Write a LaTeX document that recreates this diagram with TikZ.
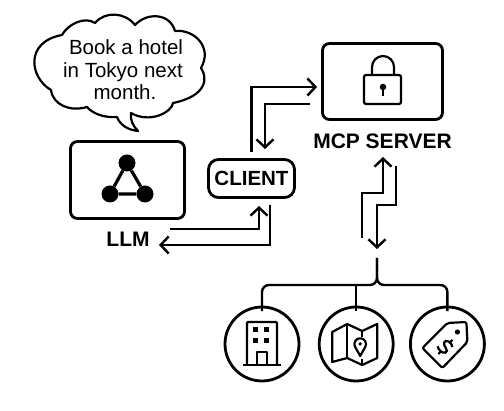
\documentclass[tikz,border=0pt]{standalone}
\usepackage{fontspec}
\setmainfont{Liberation Sans}
\usetikzlibrary{arrows.meta,positioning,calc}
\tikzset{
  panel/.style={rectangle,rounded corners=#1,draw=black,fill=white,line width=2.8pt,inner sep=0pt},
  panel/.default={7pt},
  caption/.style={font=\fontsize{21}{22}\selectfont\bfseries,inner sep=0pt,text=black},
  flow/.style={-{Straight Barb[length=8pt,width=17pt,line width=2.4pt]},line width=2.4pt,black},
  trunk/.style={line width=2.4pt,black,rounded corners=7pt},
  tool/.style={circle,draw=black,fill=white,line width=2.8pt,minimum size=74pt,inner sep=0pt},
  iconline/.style={line width=2.2pt,black,line join=round},
  spot/.style={circle,fill=black,inner sep=0pt,minimum size=#1},
}
\begin{document}
\begin{tikzpicture}[x=1pt,y=-1pt]
  \useasboundingbox (0,0) rectangle (504,411);
  % speech bubble
  \draw[line width=2.2pt,black,fill=white,line join=round]
    (62,35) .. controls (68,24) and (85,16) .. (95,23)
    .. controls (105,11) and (125,12) .. (135,25)
    .. controls (147,12) and (170,13) .. (175,31)
    .. controls (194,29) and (213,47) .. (201,68)
    .. controls (208,78) and (207,96) .. (173,103)
    .. controls (172,112) and (150,124) .. (131,113)
    .. controls (130,120) and (133,126) .. (138,131)
    .. controls (128,130) and (120,125) .. (117,117)
    .. controls (105,118) and (93,114) .. (87,107)
    .. controls (70,112) and (53,105) .. (51,90)
    .. controls (30,78) and (24,42) .. (62,35) -- cycle;
  \node[font=\fontsize{20.5}{22.5}\selectfont,align=center,inner sep=0pt,text=black] (bubble) at (123,70) {\hspace*{6pt}Book a hotel\\in Tokyo next\hspace*{6pt}\\\hspace*{4pt}month.};

  \node[panel,minimum width=114pt,minimum height=77pt] (llm) at (127.5,180) {};
  \node[caption,below=12pt of llm,xshift=0.5pt] (llmname) {LLM};
  \node[panel=10pt,minimum width=86pt,minimum height=38pt,font=\fontsize{20.5}{22}\selectfont\bfseries] (client) at (251.5,178.5) {CLIENT};
  \node[panel,minimum width=120pt,minimum height=76pt] (mcp) at (382.5,81.5) {};
  \node[caption,below=13pt of mcp] (mcpname) {MCP SERVER};

  % llm icon
  \node[spot=17pt] (top) at (127,163) {};
  \node[spot=17pt] (left) at (110,194) {};
  \node[spot=17pt] (right) at (145,194) {};
  \draw[line width=3.2pt] (top) -- (left) -- (right) -- (top);

  % lock icon
  \draw[iconline,rounded corners=2pt] (364,75) rectangle (401,104);
  \draw[iconline] (372,75) -- (372,67) arc[start angle=180,end angle=0,radius=11pt] -- (394,75);
  \node[spot=6.5pt] (key) at (383,87) {};
  \draw[line width=2.6pt] (key) -- ++(0,9);

  % client and server
  \draw[flow,shorten <=6pt,shorten >=4pt] (client.north) |- ([yshift=-5.5pt]mcp.west);
  \coordinate (mcpback) at (310,104);
  \coordinate (cltin) at (265,149);
  \draw[flow] (mcpback) -| (cltin);

  % llm and client
  \coordinate (llmout) at (170,229);
  \coordinate (cltunder) at (259,206);
  \draw[flow] (llmout) -| (cltunder);
  \coordinate (cltout) at (270,205);
  \coordinate (llmin) at (159,245);
  \draw[flow] (cltout) |- (llmin);

  % server and tools
  \coordinate (srvin) at (383,157);
  \coordinate (up) at (362,238);
  \coordinate (srvout) at (396,166);
  \coordinate (fork) at (377,249);
  \draw[flow] (up) -- (362,193) -- (383,193) -- (srvin);
  \draw[flow] (srvout) -- (396,205) -- (377,205) -- (fork);

  \node[tool] (hotel) at (262,344) {};
  \node[tool,right=17.4pt of hotel] (map) {};
  \node[tool,right=14.4pt of map] (price) {};
  \coordinate (stem) at (377,258);
  \draw[trunk] (stem) |- (hotel.north |- 0,285) -- ([yshift=-5.5pt]hotel.north);
  \draw[trunk] (stem) |- (price.north |- 0,285) -- ([yshift=-5.5pt]price.north);
  \draw[line width=2.4pt] (map.north |- 0,285) -- ([yshift=-5.5pt]map.north);

  % hotel icon
  \begin{scope}[shift={(hotel.center)}]
    \draw[iconline,rounded corners=1pt] (-15,21) -- (-15,-22) -- (15,-22) -- (15,21);
    \draw[iconline] (-19,21) -- (19,21);
    \draw[iconline] (-5,21) -- (-5,8) -- (5,8) -- (5,21);
    \foreach \wx in {-7,4}
      \foreach \wy in {-14,-3}
        \fill (\wx-2.5,\wy-2.5) rectangle (\wx+2.5,\wy+2.5);
  \end{scope}

  % map icon
  \begin{scope}[shift={(map.center)}]
    \draw[iconline] (-24,-12) -- (-9,-20) -- (6,-13) -- (21,-20) -- (21,14) -- (6,21) -- (-9,14) -- (-24,18) -- cycle;
    \draw[iconline] (-9,-20) -- (-9,14);
    \draw[iconline] (6,-13) -- (6,-7) (6,15) -- (6,21);
    \draw[iconline] (4,12) -- (-1,3) arc[start angle=210,end angle=-30,radius=5.8pt] -- cycle;
    \fill (4,0) circle[radius=1.8pt];
  \end{scope}

  % price tag icon
  \begin{scope}[shift={(price.center)}]
    \draw[iconline,rounded corners=2pt] (-25,4) -- (0,-21) -- (19,-22) -- (20,-2) -- (-5,24) -- cycle;
    \fill (10,-12) circle[radius=2.6pt];
    \begin{scope}[shift={(-2,3)},rotate=-45]
      \draw[line width=2.2pt] (5,-5) .. controls (1,-8) and (-6,-6) .. (-4,-2)
        .. controls (-2,1) and (6,0) .. (4,4) .. controls (2,7) and (-3,7) .. (-6,5);
      \draw[line width=2.2pt] (0,-10) -- (0,-7) (0,7) -- (0,10);
    \end{scope}
  \end{scope}
\end{tikzpicture}
\end{document}
